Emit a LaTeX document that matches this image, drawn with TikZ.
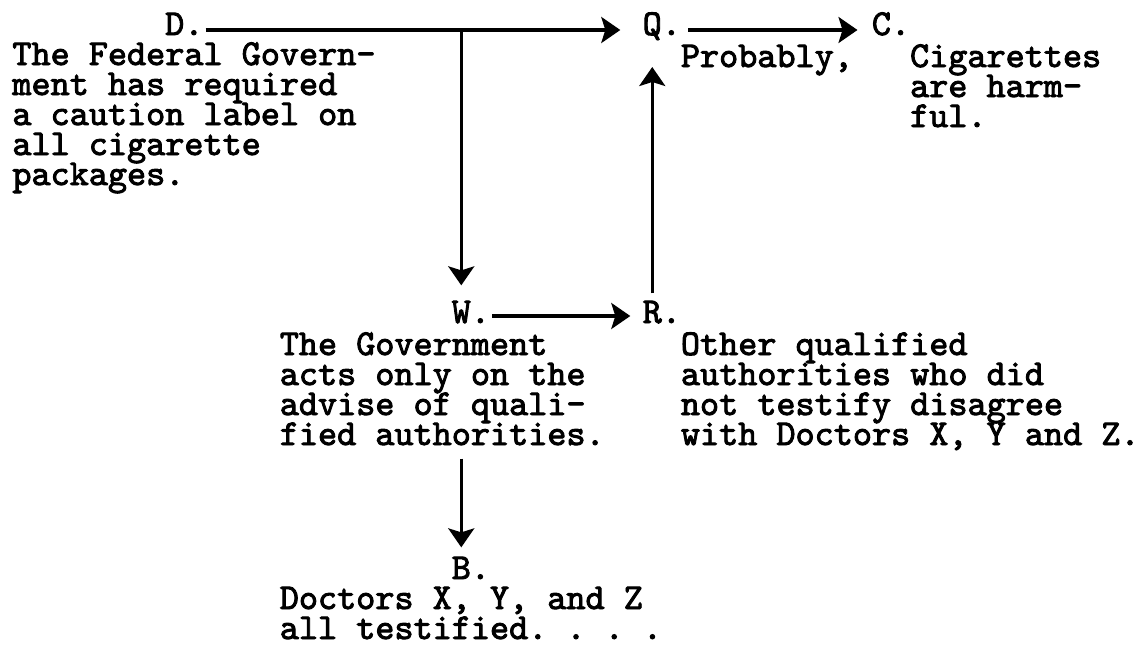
\documentclass[tikz,border=0pt]{standalone}
\usepackage{fontspec}
\usepackage{tikz}
\usetikzlibrary{arrows.meta,calc,positioning}
\newfontfamily\typewriter{lmmono10-regular.otf}[FakeBold=2.5]
\newcommand\typeset{\typewriter\fontsize{18.2}{15}\selectfont\lineskiplimit=-20pt\frenchspacing}

\begin{document}
\begin{tikzpicture}[x=.5pt,y=-.5pt,
    lab/.style={inner sep=0pt,anchor=base west,font=\typeset},
    blk/.style={lab,text width=240pt,align=left,
      execute at begin node={\spaceskip=0pt\xspaceskip=0pt}},
    arr/.style={line width=1.6pt,-{Stealth[length=9.5pt,width=13pt,inset=2pt]}}]
  \useasboundingbox (0,0) rectangle (1139,648);
  % letters on the typewriter grid
  \node[lab] (d) at (164.8,35) {D\rlap{.}};
  \node[lab] (q) at (642.3,35) {Q\rlap{.}};
  \node[lab] (c) at (871.5,35) {C\rlap{.}};
  \node[lab] (w) at (451.3,323) {W\rlap{.}};
  \node[lab] (r) at (642.3,323) {R\rlap{.}};
  \node[lab] (b) at (451.3,579) {B\rlap{.}};
  % the statements
  \node[blk] (dtxt) at (12,65) {The Federal Govern-\\ment has required\\a caution label on\\all cigarette\\packages.};
  \node[blk] (ptxt) at (680.5,67) {Probably,};
  \node[blk] (ctxt) at (909.7,67) {Cigarettes\\are harm-\\ful.};
  \node[blk] (wtxt) at (279.4,355) {The Government\\acts only on the\\advise of quali-\\fied authorities.};
  \node[blk] (rtxt) at (680.5,355) {Other qualified\\authorities who did\\not testify disagree\\with Doctors X, Y and Z.};
  \node[blk] (btxt) at (279.4,609) {Doctors X, Y, and Z\\all testified. . . .};
  % arrows
  \coordinate (dq) at ([shift={(21,-5)}]d.base east);
  \draw[arr] (dq) -- ([shift={(-22,-5)}]q.base west);
  \draw[arr] (w.north |- dq) -- ([shift={(0,-15)}]w.north);
  \draw[arr] ([shift={(26,-5)}]q.base east) -- ([shift={(-14,-5)}]c.base west);
  \draw[arr] ([shift={(21,-7)}]w.base east) -- ([shift={(-12,-7)}]r.base west);
  \draw[arr] ([shift={(0,-7)}]r.north) -- ([shift={(0,32)}]q.base);
  \draw[arr] ($(wtxt.south -| b.north)+(0,13)$) -- ([shift={(0,-9)}]b.north);
\end{tikzpicture}
\end{document}
